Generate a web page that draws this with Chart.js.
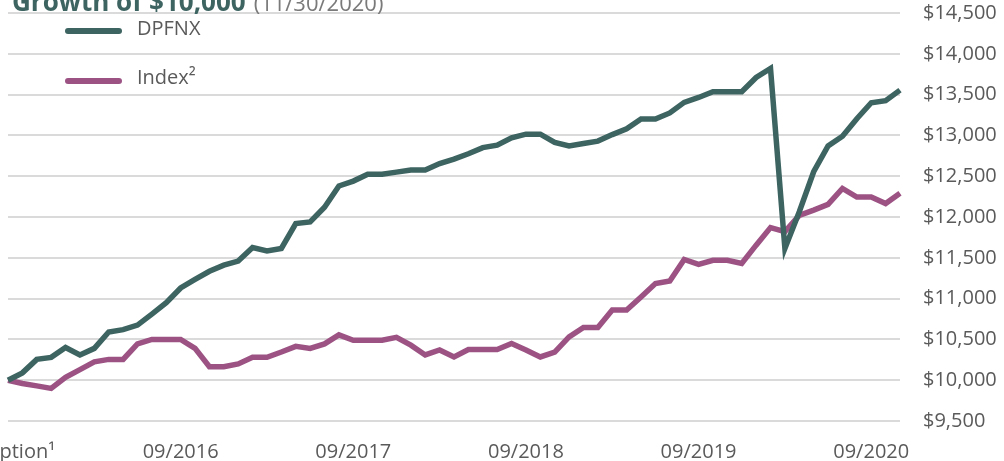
<!DOCTYPE html>
<html>
<head>
<meta charset="utf-8">
<script src="https://cdn.jsdelivr.net/npm/chart.js@4/dist/chart.umd.min.js"></script>
<style>
    html, body { margin: 0; padding: 0; background: #fff; }
    #wrap { width: 1004px; height: 461px; position: relative; }
</style>
</head>
<body>
<div id="wrap"><canvas id="growth-chart"></canvas></div>
<script>
// Months from inception (09/2015) to 11/2020
const months = [
    '09/2015', '10/2015', '11/2015', '12/2015',
    '01/2016', '02/2016', '03/2016', '04/2016', '05/2016', '06/2016', '07/2016', '08/2016', '09/2016', '10/2016', '11/2016', '12/2016',
    '01/2017', '02/2017', '03/2017', '04/2017', '05/2017', '06/2017', '07/2017', '08/2017', '09/2017', '10/2017', '11/2017', '12/2017',
    '01/2018', '02/2018', '03/2018', '04/2018', '05/2018', '06/2018', '07/2018', '08/2018', '09/2018', '10/2018', '11/2018', '12/2018',
    '01/2019', '02/2019', '03/2019', '04/2019', '05/2019', '06/2019', '07/2019', '08/2019', '09/2019', '10/2019', '11/2019', '12/2019',
    '01/2020', '02/2020', '03/2020', '04/2020', '05/2020', '06/2020', '07/2020', '08/2020', '09/2020', '10/2020', '11/2020'
];

// Labels shown on the x axis
const shownTicks = ['Inception¹', '09/2016', '09/2017', '09/2018', '09/2019', '09/2020'];
const shownMonths = ['09/2015', '09/2016', '09/2017', '09/2018', '09/2019', '09/2020'];

// Growth of $10,000
const dpfnxValues = [
    10000, 10090, 10255, 10280, 10400, 10310, 10390, 10590, 10620, 10675,
    10810, 10950, 11130, 11235, 11335, 11410, 11460, 11625, 11585, 11615,
    11920, 11940, 12120, 12380, 12440, 12525, 12525, 12550, 12575, 12575,
    12655, 12710, 12775, 12850, 12880, 12970, 13015, 13015, 12915, 12870,
    12900, 12930, 13010, 13080, 13200, 13200, 13275, 13405, 13465, 13535,
    13535, 13535, 13710, 13820, 11615, 12065, 12555, 12870, 12990, 13205,
    13400, 13425, 13555
];
const indexValues = [
    10000, 9960, 9930, 9900, 10035, 10130, 10225, 10255, 10255, 10445,
    10500, 10500, 10500, 10390, 10165, 10165, 10200, 10280, 10280, 10345,
    10415, 10390, 10445, 10555, 10490, 10490, 10490, 10525, 10430, 10310,
    10370, 10285, 10375, 10375, 10375, 10450, 10370, 10285, 10345, 10530,
    10645, 10645, 10860, 10860, 11020, 11185, 11215, 11480, 11420, 11470,
    11470, 11430, 11655, 11870, 11820, 12020, 12085, 12155, 12350, 12245,
    12245, 12165, 12290
];

const FONT = "'Open Sans', 'Noto Sans', sans-serif";
const TEAL = '#3d6461';
const PURPLE = '#9c5384';
const TEXT_GRAY = '#5a5a5a';

// Title (cut at the top edge) and legend drawn over the plot
const overlayPlugin = {
    id: 'overlay',
    afterDraw(chart) {
        const ctx = chart.ctx;
        ctx.save();

        // title
        ctx.textBaseline = 'alphabetic';
        ctx.textAlign = 'left';
        ctx.font = `bold 26px ${FONT}`;
        ctx.fillStyle = TEAL;
        const titleMain = 'Growth of $10,000';
        ctx.fillText(titleMain, 12, 11);
        const w = ctx.measureText(titleMain).width;
        ctx.font = `22px ${FONT}`;
        ctx.fillStyle = '#7a7a7a';
        ctx.fillText('(11/30/2020)', 12 + w + 8, 11);

        // legend
        const items = chart.data.datasets.map((ds, i) => ({
            label: ds.label,
            color: ds.borderColor,
            lineY: i === 0 ? 31 : 81,
            textY: i === 0 ? 29 : 78
        }));
        items.forEach(item => {
            ctx.strokeStyle = item.color;
            ctx.lineWidth = 6;
            ctx.lineCap = 'round';
            ctx.beginPath();
            ctx.moveTo(68, item.lineY);
            ctx.lineTo(119, item.lineY);
            ctx.stroke();
            ctx.font = `20px ${FONT}`;
            ctx.fillStyle = TEXT_GRAY;
            ctx.textBaseline = 'middle';
            ctx.fillText(item.label, 137, item.textY);
        });
        ctx.restore();
    }
};

const ctx = document.getElementById('growth-chart');
new Chart(ctx, {
    type: 'line',
    data: {
        labels: months,
        datasets: [{
            label: 'DPFNX',
            data: dpfnxValues,
            borderColor: TEAL,
            borderWidth: 5.5,
            pointRadius: 0,
            tension: 0,
            fill: false
        }, {
            label: 'Index²',
            data: indexValues,
            borderColor: PURPLE,
            borderWidth: 5.5,
            pointRadius: 0,
            tension: 0,
            fill: false
        }]
    },
    options: {
        responsive: true,
        maintainAspectRatio: false,
        animation: false,
        devicePixelRatio: 1,
        layout: {
            padding: { left: 8, top: 13, right: 0, bottom: 0 }
        },
        plugins: {
            legend: { display: false },
            tooltip: { enabled: false },
            title: { display: false }
        },
        scales: {
            x: {
                offset: false,
                grid: { display: false, drawTicks: false },
                border: { display: false },
                ticks: {
                    autoSkip: false,
                    maxRotation: 0,
                    minRotation: 0,
                    padding: 19,
                    color: TEXT_GRAY,
                    font: { family: FONT, size: 20 },
                    callback: function (value, index) {
                        const pos = shownMonths.indexOf(months[index]);
                        return pos >= 0 ? shownTicks[pos] : '';
                    }
                },
                afterFit(scale) {
                    scale.height = 40;
                    scale.paddingLeft = 0;
                    scale.paddingRight = 0;
                }
            },
            y: {
                position: 'right',
                min: 9500,
                max: 14500,
                grid: { color: '#dadada', lineWidth: 2, drawTicks: false },
                border: { display: false },
                ticks: {
                    stepSize: 500,
                    padding: 23,
                    color: TEXT_GRAY,
                    font: { family: FONT, size: 20 },
                    callback: v => '$' + v.toLocaleString('en-US')
                },
                afterFit(scale) {
                    scale.width = 104;
                    scale.paddingTop = 0;
                    scale.paddingBottom = 0;
                }
            }
        }
    },
    plugins: [overlayPlugin]
});
</script>
</body>
</html>
